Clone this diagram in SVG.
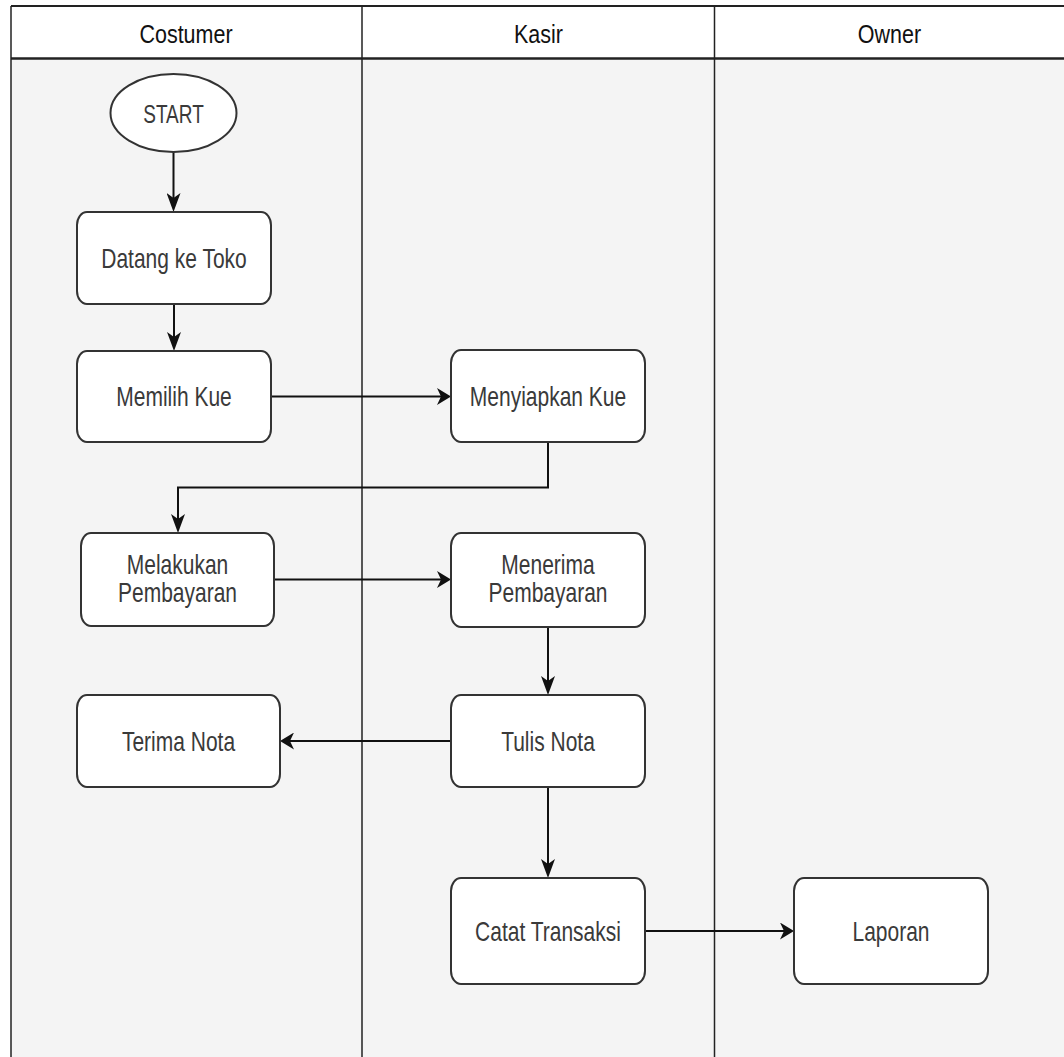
<svg xmlns="http://www.w3.org/2000/svg" width="1064" height="1057" viewBox="0 0 1064 1057">
  <style>
    .lane-body { fill: #f4f4f4; }
    .header { fill: #ffffff; }
    .rule { stroke: #222; fill: none; }
    .node { fill: #ffffff; stroke: #333; stroke-width: 2; }
    .label { font-family: "Liberation Sans", Arial, sans-serif; font-size: 21px; fill: #3a3a3a; text-anchor: middle; }
    .title { font-family: "Liberation Sans", Arial, sans-serif; font-size: 21.5px; fill: #111; text-anchor: middle; }
    .edge { fill: none; stroke: #111; stroke-width: 2; }
  </style>
  <defs>
    <marker id="arrowH" viewBox="0 0 14 17" markerWidth="14" markerHeight="17" refX="9" refY="8.5" orient="auto" markerUnits="userSpaceOnUse">
      <path d="M0,0 L14,8.5 L0,17 L4,8.5 Z" fill="#111"/>
    </marker>
    <marker id="arrowV" viewBox="0 0 19 14" markerWidth="19" markerHeight="14" refX="14" refY="7" orient="auto" markerUnits="userSpaceOnUse">
      <path d="M0,0 L19,7 L0,14 L5,7 Z" fill="#111"/>
    </marker>
  </defs>

  <!-- swimlane pool -->
  <g id="pool">
    <rect class="header" x="11" y="6" width="1053" height="52"/>
    <rect class="lane-body" x="11" y="58" width="1053" height="999"/>
    <line class="rule" x1="11" y1="6" x2="1064" y2="6" stroke-width="2"/>
    <line class="rule" x1="11" y1="58.5" x2="1064" y2="58.5" stroke-width="2.5"/>
    <line class="rule" x1="11" y1="6" x2="11" y2="1057" stroke-width="1.5"/>
    <line class="rule" x1="362" y1="6" x2="362" y2="1057" stroke-width="1.5"/>
    <line class="rule" x1="714.5" y1="6" x2="714.5" y2="1057" stroke-width="1.5"/>
    <text class="title" transform="translate(186,43) scale(1,1.2)">Costumer</text>
    <text class="title" transform="translate(538.5,43) scale(1,1.2)">Kasir</text>
    <text class="title" transform="translate(889.5,43) scale(1,1.2)">Owner</text>
  </g>

  <!-- connectors -->
  <g id="connectors">
    <path class="edge" d="M173.5 152 V207" marker-end="url(#arrowV)"/>
    <path class="edge" d="M174 304 V346" marker-end="url(#arrowV)"/>
    <path class="edge" d="M271 396.5 H446" marker-end="url(#arrowH)"/>
    <path class="edge" d="M548 442 V487.5 H178 V528" marker-end="url(#arrowV)"/>
    <path class="edge" d="M274 579.5 H446" marker-end="url(#arrowH)"/>
    <path class="edge" d="M548 627 V690" marker-end="url(#arrowV)"/>
    <path class="edge" d="M451 741 H285" marker-end="url(#arrowH)"/>
    <path class="edge" d="M548 787 V873" marker-end="url(#arrowV)"/>
    <path class="edge" d="M645 931 H789" marker-end="url(#arrowH)"/>
  </g>

  <!-- nodes -->
  <g id="start">
    <ellipse class="node" cx="173.5" cy="113" rx="63" ry="39"/>
    <text class="label" style="font-size:19px" transform="translate(173.5,122.5) scale(1,1.35)">START</text>
  </g>
  <g id="datang-ke-toko">
    <rect class="node" x="77" y="212" width="194" height="92" rx="10" ry="13"/>
    <text class="label" transform="translate(174,268) scale(1,1.3)">Datang ke Toko</text>
  </g>
  <g id="memilih-kue">
    <rect class="node" x="77" y="351" width="194" height="91" rx="10" ry="13"/>
    <text class="label" transform="translate(174,406) scale(1,1.3)">Memilih Kue</text>
  </g>
  <g id="menyiapkan-kue">
    <rect class="node" x="451" y="350" width="194" height="92" rx="10" ry="13"/>
    <text class="label" transform="translate(548,406) scale(1,1.3)">Menyiapkan Kue</text>
  </g>
  <g id="melakukan-pembayaran">
    <rect class="node" x="81" y="533" width="193" height="93" rx="10" ry="13"/>
    <text class="label" transform="translate(177.5,574) scale(1,1.3)"><tspan x="0" y="0">Melakukan</tspan><tspan x="0" y="21.5">Pembayaran</tspan></text>
  </g>
  <g id="menerima-pembayaran">
    <rect class="node" x="451" y="533" width="194" height="94" rx="10" ry="13"/>
    <text class="label" transform="translate(548,574) scale(1,1.3)"><tspan x="0" y="0">Menerima</tspan><tspan x="0" y="21.5">Pembayaran</tspan></text>
  </g>
  <g id="terima-nota">
    <rect class="node" x="77" y="695" width="203" height="92" rx="10" ry="13"/>
    <text class="label" transform="translate(178.5,751) scale(1,1.3)">Terima Nota</text>
  </g>
  <g id="tulis-nota">
    <rect class="node" x="451" y="695" width="194" height="92" rx="10" ry="13"/>
    <text class="label" transform="translate(548,751) scale(1,1.3)">Tulis Nota</text>
  </g>
  <g id="catat-transaksi">
    <rect class="node" x="451" y="878" width="194" height="106" rx="10" ry="13"/>
    <text class="label" transform="translate(548,941) scale(1,1.3)">Catat Transaksi</text>
  </g>
  <g id="laporan">
    <rect class="node" x="794" y="878" width="194" height="106" rx="10" ry="13"/>
    <text class="label" transform="translate(891,941) scale(1,1.3)">Laporan</text>
  </g>
</svg>
